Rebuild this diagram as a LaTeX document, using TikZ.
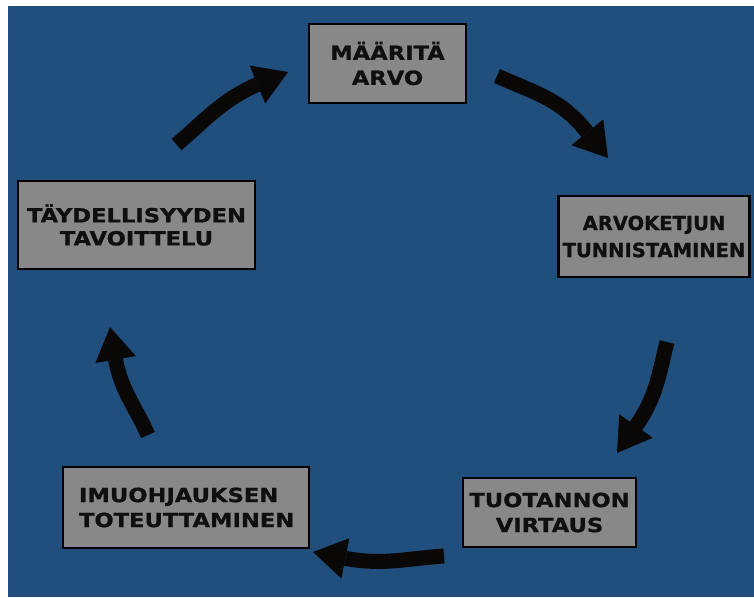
\documentclass[tikz,border=0pt]{standalone}
\usepackage{fontspec}
\usetikzlibrary{arrows.meta}
\newfontfamily\boxfont{DejaVu Sans}[FakeStretch=1.16,FakeBold=1]
\newfontfamily\boxfontn{DejaVu Sans}[FakeStretch=1.0,FakeBold=1]
\definecolor{bgblue}{RGB}{32,78,125}
\definecolor{boxgray}{RGB}{136,136,136}
\definecolor{textblack}{RGB}{15,15,15}
\definecolor{arrowblack}{RGB}{10,8,6}
\begin{document}
\begin{tikzpicture}[x=1pt,y=1pt,
  box/.style={draw=black, line width=2.5pt, fill=boxgray, text=textblack,
    inner sep=0pt, align=center,
    font=\boxfont\bfseries\fontsize{19.5}{25}\selectfont},
  cyc/.style={line width=15pt, draw=arrowblack,
    -{Triangle[length=33pt,width=41pt,line width=0pt]}}]
\useasboundingbox (0,0) rectangle (754,597);
\fill[white] (0,0) rectangle (754,597);
\fill[bgblue] (8,0) rectangle (754,591);

\node[box, minimum width=157pt, minimum height=79pt] (n1) at (387.5,533.5) {MÄÄRITÄ\\ARVO};
\node[box, minimum width=191pt, minimum height=81pt,
  font=\boxfontn\bfseries\fontsize{19.5}{27}\selectfont] (n2) at (654,360.5) {ARVOKETJUN\\TUNNISTAMINEN};
\node[box, minimum width=173pt, minimum height=69pt] (n3) at (549.5,84.5) {TUOTANNON\\VIRTAUS};
\node[box, minimum width=246pt, minimum height=81pt, text width=214pt, align=left] (n4) at (186,89.5) {IMUOHJAUKSEN\\TOTEUTTAMINEN};
\node[box, minimum width=237pt, minimum height=88pt, font=\boxfont\bfseries\fontsize{19.5}{23}\selectfont] (n5) at (136.5,372) {TÄYDELLISYYDEN\\TAVOITTELU};

\coordinate (a1s) at (176.5,452.5); \coordinate (a1b) at (255,511.5); \coordinate (a1e) at (288,525);
\coordinate (a2s) at (497,521);     \coordinate (a2b) at (587,465);   \coordinate (a2e) at (608,439);
\coordinate (a3s) at (667,255);     \coordinate (a3b) at (636,171);   \coordinate (a3e) at (617,144);
\coordinate (a4s) at (444,41);      \coordinate (a4b) at (346,38.5);  \coordinate (a4e) at (313,45);
\coordinate (a5s) at (148,162);     \coordinate (a5b) at (115.5,238); \coordinate (a5e) at (110,270);

\draw[cyc] (a1s) to[out=40,in=205] (a1b) -- (a1e);
\draw[cyc] (a2s) to[out=-24,in=128] (a2b) -- (a2e);
\draw[cyc] (a3s) to[out=-104,in=55] (a3b) -- (a3e);
\draw[cyc] (a4s) to[out=184,in=-10] (a4b) -- (a4e);
\draw[cyc] (a5s) to[out=114,in=-80] (a5b) -- (a5e);
\end{tikzpicture}
\end{document}
